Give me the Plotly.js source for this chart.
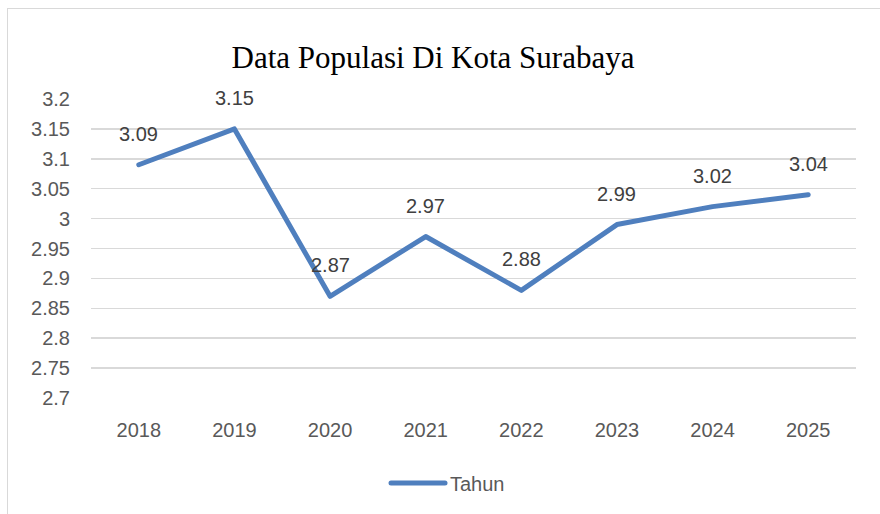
<!DOCTYPE html>
<html>
<head>
<meta charset="utf-8">
<script src="https://cdn.plot.ly/plotly-3.0.1.min.js"></script>
<style>
html, body { margin: 0; padding: 0; background: #fff; }
#wrap { position: relative; width: 880px; height: 514px; overflow: hidden; }
#chart { position: absolute; left: 0; top: 0; width: 880px; height: 514px; }
#frame { position: absolute; left: 7px; top: 8px; width: 900px; height: 600px; border: 1.5px solid #d9d9d9; pointer-events: none; }
.js-line { stroke-linecap: round; stroke-linejoin: round; }
</style>
</head>
<body>
<div id="wrap">
  <div id="chart"></div>
  <div id="frame"></div>
</div>
<script>
const years = ['2018', '2019', '2020', '2021', '2022', '2023', '2024', '2025'];
const tahun = [3.09, 3.15, 2.87, 2.97, 2.88, 2.99, 3.02, 3.04];
const yTicks = [2.7, 2.75, 2.8, 2.85, 2.9, 2.95, 3, 3.05, 3.1, 3.15, 3.2];
const yTickText = ['2.7', '2.75', '2.8', '2.85', '2.9', '2.95', '3', '3.05', '3.1', '3.15', '3.2'];
const seriesName = 'Tahun';
const chartTitle = 'Data Populasi Di Kota Surabaya';

const lineColor = '#4F7FBE';
const sansFont = 'Liberation Sans, Arial, sans-serif';

const trace = {
  x: years,
  y: tahun,
  type: 'scatter',
  mode: 'lines',
  name: seriesName,
  line: { color: lineColor, width: 5 },
  hoverinfo: 'x+y'
};

const annotations = years.map((yr, i) => ({
  x: i,
  y: tahun[i],
  xref: 'x',
  yref: 'y',
  text: String(tahun[i]),
  showarrow: false,
  yshift: 31,
  xanchor: 'center',
  yanchor: 'middle',
  font: { family: sansFont, size: 20, color: '#404040' }
}));

const layout = {
  width: 880,
  height: 514,
  margin: { l: 91, r: 24, t: 99, b: 116 },
  paper_bgcolor: 'rgba(0,0,0,0)',
  plot_bgcolor: 'rgba(0,0,0,0)',
  title: {
    text: chartTitle,
    font: { family: 'Liberation Serif, Times New Roman, serif', size: 31, color: '#000000' },
    x: 433 / 880,
    xanchor: 'center',
    y: 1 - 57 / 514,
    yanchor: 'middle',
    xref: 'container',
    yref: 'container'
  },
  xaxis: {
    type: 'category',
    range: [-0.5, years.length - 0.5],
    showgrid: false,
    zeroline: false,
    showline: false,
    ticks: '',
    ticklabelstandoff: 18,
    tickfont: { family: sansFont, size: 20, color: '#595959' },
    fixedrange: true
  },
  yaxis: {
    range: [2.7, 3.2],
    tickvals: yTicks,
    ticktext: yTickText,
    showgrid: true,
    gridcolor: '#d9d9d9',
    gridwidth: 1.5,
    zeroline: false,
    showline: false,
    ticks: '',
    ticklabelstandoff: 20,
    tickfont: { family: sansFont, size: 20, color: '#595959' },
    fixedrange: true
  },
  showlegend: true,
  legend: {
    orientation: 'h',
    x: 448 / 880,
    xref: 'container',
    xanchor: 'center',
    y: 1 - 483 / 514,
    yref: 'container',
    yanchor: 'middle',
    font: { family: sansFont, size: 20, color: '#595959' },
    itemwidth: 54,
    bgcolor: 'rgba(0,0,0,0)'
  },
  annotations: annotations
};

Plotly.newPlot('chart', [trace], layout, { displayModeBar: false, staticPlot: true });
</script>
</body>
</html>
